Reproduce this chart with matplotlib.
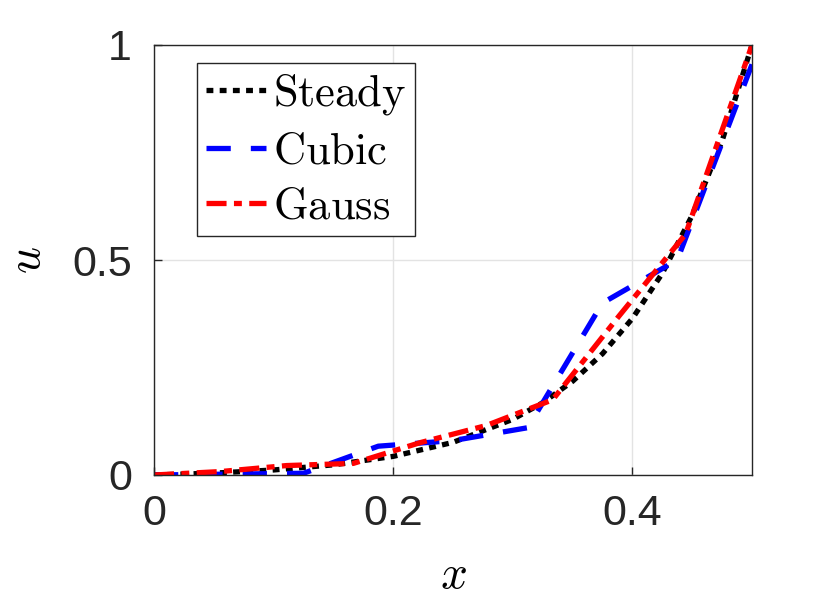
import matplotlib.pyplot as plt

# data
x_steady = [0, 0.05, 0.1, 0.15, 0.2, 0.25, 0.3, 0.325, 0.35, 0.375,
            0.4, 0.425, 0.45, 0.475, 0.5]
u_steady = [0, 0.0044, 0.0117, 0.0236, 0.0433, 0.0759, 0.1295, 0.168,
            0.218, 0.282, 0.364, 0.469, 0.604, 0.777, 1.0]

x_cubic = [0, 0.0625, 0.125, 0.1875, 0.25, 0.3125, 0.375, 0.4375, 0.5]
u_cubic = [0, 0.002, 0.004, 0.067, 0.08, 0.11, 0.40, 0.50, 0.955]

x_gauss = [0, 1/18, 2/18, 3/18, 4/18, 5/18, 6/18, 7/18, 8/18, 0.5]
u_gauss = [0, 0.008, 0.022, 0.027, 0.075, 0.115, 0.175, 0.37, 0.56, 1.0]

x_ticks = [0, 0.2, 0.4]
y_ticks = [0, 0.5, 1]
x_ticklabels = ['0', '0.2', '0.4']
y_ticklabels = ['0', '0.5', '1']

plt.rcParams['mathtext.fontset'] = 'cm'
plt.rcParams['font.family'] = ['Liberation Sans', 'DejaVu Sans']

fig = plt.figure(figsize=(8.3, 6.06), dpi=100)
ax = fig.add_axes([154/830, 1 - 475/606, 598/830, 430/606])

lw = 3.8
ax.plot(x_steady, u_steady, color='k', lw=lw, linestyle=(0, (1.3, 1.2)),
        label=r'$\mathrm{Steady}$')
ax.plot(x_cubic, u_cubic, color='#0000ff', lw=lw, linestyle=(0, (4.6, 3.8)),
        label=r'$\mathrm{Cubic}$')
ax.plot(x_gauss, u_gauss, color='#ff0000', lw=lw,
        linestyle=(0, (3.8, 1.4, 1.5, 1.4)), label=r'$\mathrm{Gauss}$')

ax.set_xlim(0, 0.5)
ax.set_ylim(0, 1)
ax.set_xticks(x_ticks)
ax.set_xticklabels(x_ticklabels)
ax.set_yticks(y_ticks)
ax.set_yticklabels(y_ticklabels)
ax.tick_params(direction='in', length=6, width=1, colors='#262626',
               labelsize=31, pad=14)
ax.tick_params(axis='y', pad=16)
ax.grid(True, color='#e3e3e3', lw=1)
ax.set_axisbelow(True)
for s in ax.spines.values():
    s.set_color('#262626')
    s.set_linewidth(1)

ax.set_xlabel(r'$x$', fontsize=34, labelpad=14)
ax.set_ylabel(r'$u$', fontsize=34, labelpad=16)

leg = ax.legend(loc='upper left', bbox_to_anchor=(0.072, 0.958), fontsize=32,
                handlelength=1.35, handletextpad=0.15, borderpad=0.2,
                labelspacing=0.32, borderaxespad=0, fancybox=False,
                framealpha=1, edgecolor='#262626')
leg.get_frame().set_linewidth(1)

fig.savefig('out.png', dpi=100)
